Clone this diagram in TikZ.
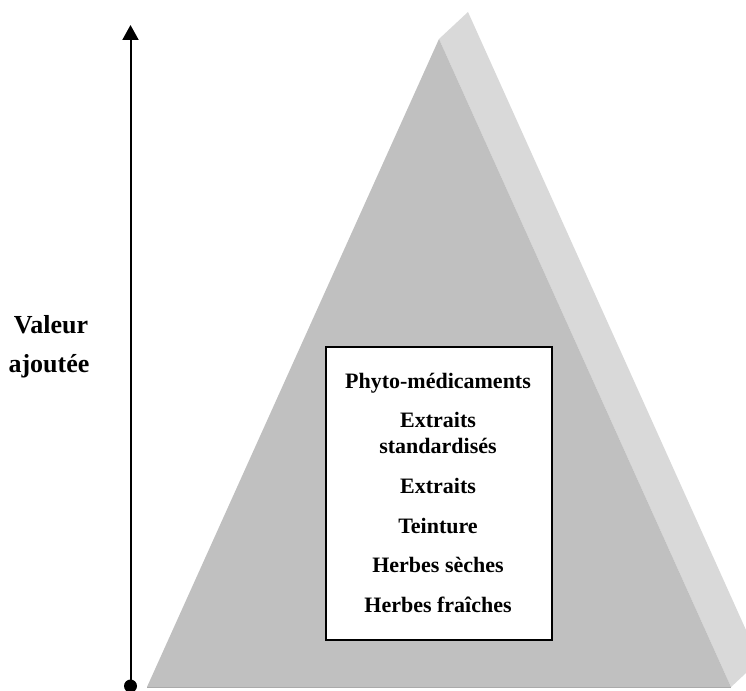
\documentclass[tikz,border=0pt]{standalone}
\usepackage{fontspec}
\setmainfont{Liberation Serif}
\usetikzlibrary{arrows.meta}
\definecolor{frontgray}{RGB}{192,192,192}
\definecolor{sidegray}{RGB}{217,217,217}
\definecolor{basegray}{RGB}{170,170,170}
\tikzset{
  boxtext/.style={font=\fontsize{22}{26}\selectfont\bfseries, inner sep=0pt, anchor=base},
  axistext/.style={font=\fontsize{26}{39}\selectfont\bfseries, inner sep=0pt, anchor=base},
  axisline/.style={line width=2pt, -{Triangle[width=16pt,length=15pt]}}
}
\begin{document}
\begin{tikzpicture}[x=1pt,y=-1pt]
\useasboundingbox (0,0) rectangle (746,690);
\fill[white] (0,0) rectangle (746,690);
% pyramid
\fill[sidegray] (439,39) -- (468,12) -- (746,630) -- (746,673) -- (731,687) -- cycle;
\fill[frontgray] (439,39) -- (731,687) -- (147,687) -- cycle;
\draw[basegray, line width=1pt] (147,687) -- (731,687);
% box
\node[draw=black, line width=1.5pt, fill=white, minimum width=226pt, minimum height=293pt, inner sep=0pt] (box) at (439,493.5) {};
\node[boxtext] (t1) at (438,388) {Phyto-médicaments};
\node[boxtext] (t2a) at (438,427) {Extraits};
\node[boxtext] (t2b) at (438,453) {standardisés};
\node[boxtext] (t3) at (438,493) {Extraits};
\node[boxtext] (t4) at (438,533) {Teinture};
\node[boxtext] (t5) at (438,572) {Herbes sèches};
\node[boxtext] (t6) at (438,612) {Herbes fraîches};
% axis
\coordinate (bot) at (130.5,686);
\coordinate (top) at (130.5,25);
\draw[axisline] (bot) -- (top);
\fill[black] (bot) circle (6.5pt);
\node[axistext] (v1) at (51,333) {Valeur};
\node[axistext] (v2) at (49,372) {ajoutée};
\end{tikzpicture}
\end{document}
